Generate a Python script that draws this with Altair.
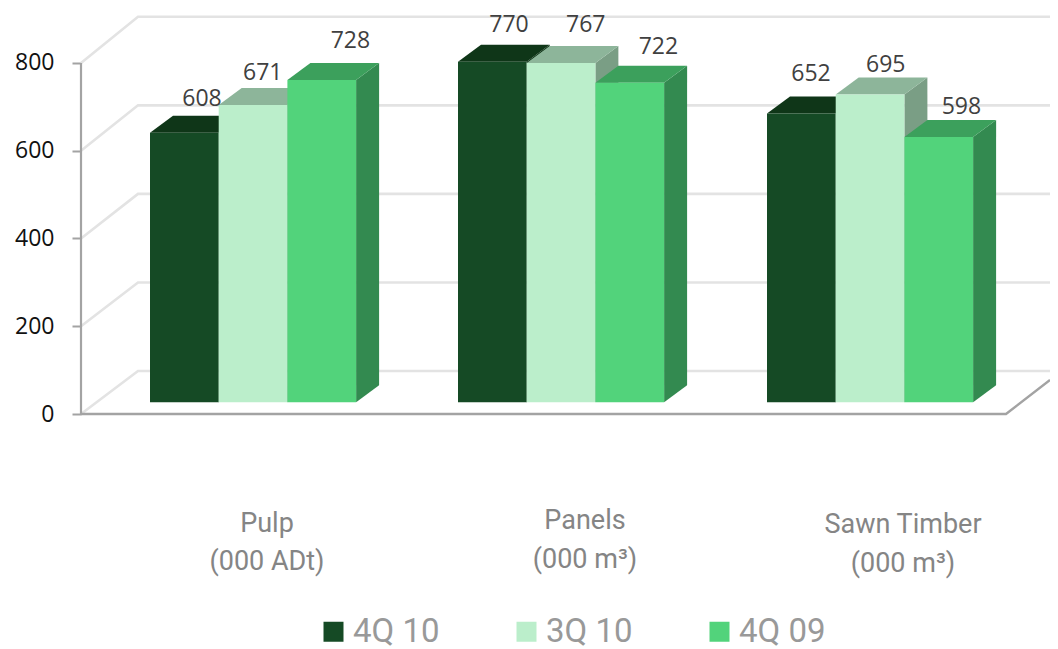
import altair as alt
import pandas as pd

categories = ["Pulp", "Panels", "Sawn Timber"]
units = ["(000 ADt)", "(000 m³)", "(000 m³)"]
series = ["4Q 10", "3Q 10", "4Q 09"]
values_4q10 = [608, 770, 652]
values_3q10 = [671, 767, 695]
values_4q09 = [728, 722, 598]
axis_ticks = [0, 200, 400, 600, 800]

# ---- styling / layout constants (screen pixels) ----
front = ["#154a25", "#bbeecb", "#52d37b"]
top_c = ["#0f3618", "#8db59a", "#3ca05c"]
side_c = ["#0f3618", "#7a9e85", "#338a50"]
W, H = 1042, 641
PX = 0.4388               # pixels per value unit
Y0 = 414                  # screen y of value 0 on the front plane
group_x = [150, 458, 767]
bar_w = 68.7
depth_x, depth_y = 23, 17 / PX
base_lift, top_lift = 27, 33
wall_x, axis_x = 138, 81
label_dx = [[52, 51, 44], [44, 59, 50], [63, 63, 57]]
label_dy = [[27, 30, 32], [25, 31, 23], [32, 29, 23]]
cat_x = [267, 585, 903]
cat_y1 = [532, 529, 533]
cat_y2 = [570, 568, 572]


def py(p):
    return (Y0 - p) / PX


x_scale = alt.Scale(domain=[8, 8 + W], range=[0, W], nice=False, zero=False)
y_scale = alt.Scale(domain=[py(8 + H), py(8)], range=[H, 0], nice=False, zero=False)
y_axis = alt.Axis(
    values=axis_ticks,
    domain=False,
    grid=False,
    ticks=True,
    tickSize=9,
    tickWidth=2,
    tickColor="#a3a3a3",
    labelFont="Open Sans",
    labelFontSize=23,
    labelColor="#111111",
    labelPadding=18,
    title=None,
    offset=-(axis_x - 8),
    labelBaseline="middle",
)
X = lambda f: alt.X(f, type="quantitative", scale=x_scale, axis=None, stack=None)
Y = lambda f: alt.Y(f, type="quantitative", scale=y_scale, axis=y_axis, stack=None)
color_scale = alt.Scale(domain=series, range=front)

layers = []

# back wall grid lines with the diagonal on the side wall
grid_rows = []
for v in axis_ticks:
    wall = v * 1.009 + 98
    grid_rows += [
        dict(g=v, x=axis_x, y=v),
        dict(g=v, x=wall_x, y=wall),
        dict(g=v, x=8 + W, y=wall),
    ]
layers.append(
    alt.Chart(pd.DataFrame(grid_rows))
    .mark_line(color="#e3e3e3", strokeWidth=2.6, clip=True)
    .encode(x=X("x"), y=Y("y"), detail="g:N")
)

# floor edge (the right-hand corner runs up towards the page edge)
floor = pd.DataFrame([dict(x=axis_x, y=0), dict(x=1006, y=0), dict(x=8 + W, y=py(380))])
layers.append(
    alt.Chart(floor).mark_line(color="#a3a3a3", strokeWidth=2.4, clip=True).encode(x=X("x"), y=Y("y"))
)

# vertical axis line
layers.append(
    alt.Chart(pd.DataFrame([dict(x=axis_x, y=0, y2=800)]))
    .mark_rule(color="#a3a3a3", strokeWidth=2.2)
    .encode(x=X("x"), y=Y("y"), y2="y2:Q")
)

# bars, painted series by series so that nearer faces cover the others
all_vals = [values_4q10, values_3q10, values_4q09]
for s, name in enumerate(series):
    bars, side_rows, top_rows = [], [], []
    for g, cat in enumerate(categories):
        v = all_vals[s][g]
        x0 = group_x[g] + s * bar_w
        x1 = x0 + bar_w
        yt = v + top_lift
        yb = base_lift
        bars.append(dict(series=name, x0=x0, x1=x1, yt=yt, yb=yb))
        side_rows += [
            dict(c=cat, x=x1, y=yt, y2=yb),
            dict(c=cat, x=x1 + depth_x, y=yt + depth_y, y2=yb + depth_y),
        ]
        top_rows += [
            dict(c=cat, y=yt, x=x0, x2=x1),
            dict(c=cat, y=yt + depth_y, x=x0 + depth_x, x2=x1 + depth_x),
        ]
    layers.append(
        alt.Chart(pd.DataFrame(side_rows))
        .mark_area(color=side_c[s], orient="vertical")
        .encode(x=X("x"), y=Y("y"), y2="y2:Q", detail="c:N")
    )
    layers.append(
        alt.Chart(pd.DataFrame(top_rows))
        .mark_area(color=top_c[s], orient="horizontal")
        .encode(y=Y("y"), x=X("x"), x2="x2:Q", detail="c:N")
    )
    layers.append(
        alt.Chart(pd.DataFrame(bars))
        .mark_rect()
        .encode(
            x=X("x0"),
            x2="x1:Q",
            y=Y("yt"),
            y2="yb:Q",
            color=alt.Color(
                "series:N",
                scale=color_scale,
                legend=alt.Legend(
                    title=None,
                    orient="none",
                    legendX=309,
                    legendY=607,
                    direction="horizontal",
                    symbolType="square",
                    symbolSize=400,
                    symbolStrokeWidth=0,
                    labelFont="Roboto",
                    labelFontSize=33,
                    labelColor="#999999",
                    labelOffset=3,
                    columnPadding=70,
                    padding=0,
                ),
            ),
        )
    )

# value labels
label_rows = []
for s in range(3):
    for g in range(3):
        v = all_vals[s][g]
        label_rows.append(
            dict(
                t=str(v),
                x=group_x[g] + s * bar_w + label_dx[s][g],
                y=v + top_lift + label_dy[s][g] / PX,
            )
        )
layers.append(
    alt.Chart(pd.DataFrame(label_rows))
    .mark_text(font="Open Sans", fontSize=23, color="#404040", align="center", baseline="alphabetic")
    .encode(x=X("x"), y=Y("y"), text="t:N")
)

# category labels
cat_rows = []
for g in range(3):
    cat_rows.append(dict(t=categories[g], x=cat_x[g], y=py(cat_y1[g])))
    cat_rows.append(dict(t=units[g], x=cat_x[g], y=py(cat_y2[g])))
layers.append(
    alt.Chart(pd.DataFrame(cat_rows))
    .mark_text(font="Roboto", fontSize=27, color="#858585", align="center", baseline="alphabetic")
    .encode(x=X("x"), y=Y("y"), text="t:N")
)

chart = (
    alt.layer(*layers)
    .properties(
        width=W,
        height=H,
        padding=0,
        autosize=alt.AutoSizeParams(type="none"),
        background="white",
    )
    .configure_view(stroke=None)
)

chart.save("out.html", embed_options={"renderer": "svg", "actions": False})
